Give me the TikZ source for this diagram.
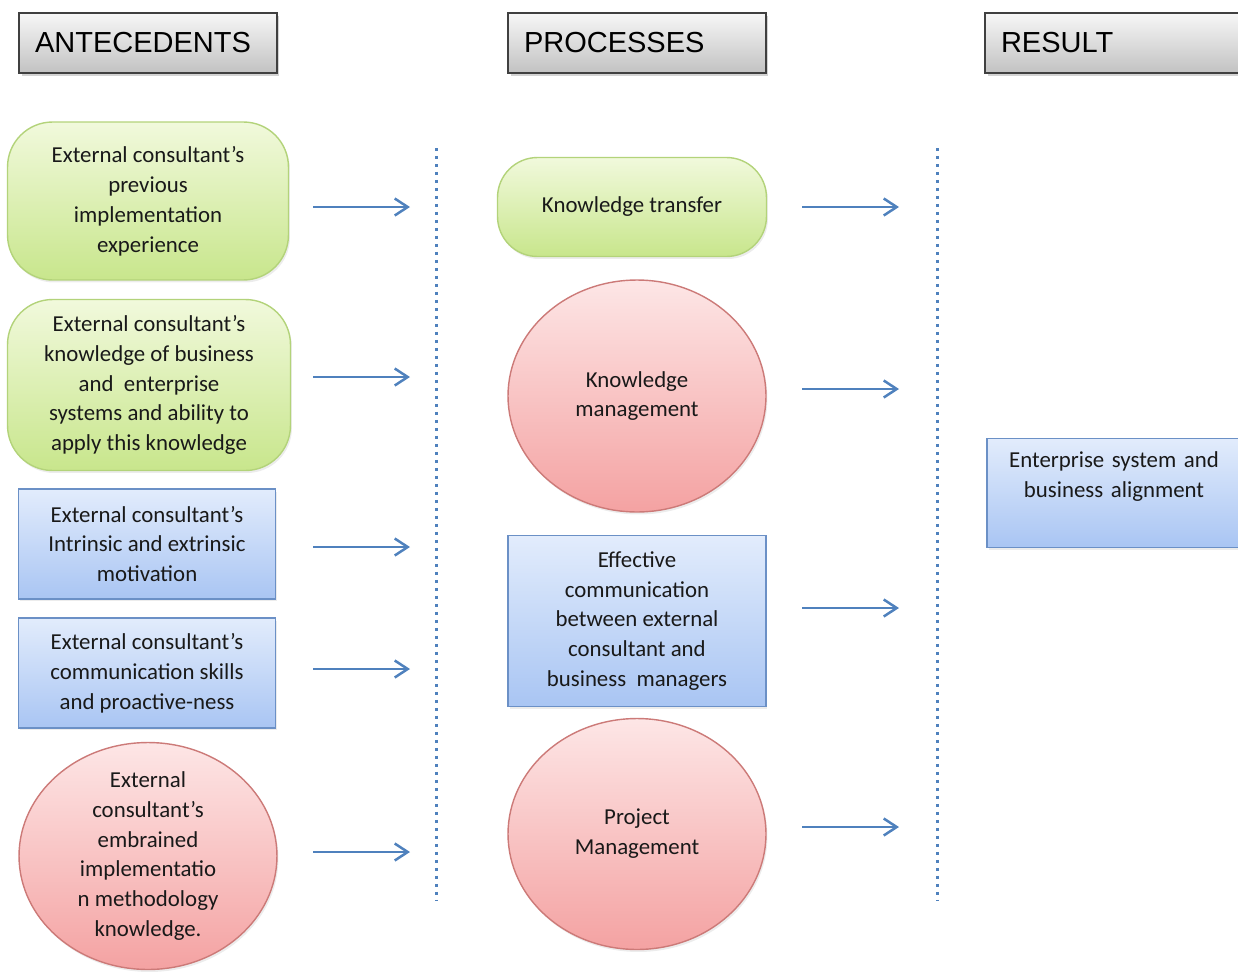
\documentclass[tikz,border=0pt]{standalone}
\usepackage{fontspec}
\setmainfont{Carlito}
\newfontfamily\headfont{Liberation Sans}
\usepackage{tikz}
\usepackage{xcolor}
\usetikzlibrary{calc,shapes.geometric,shadows,arrows.meta}

\definecolor{greentop}{HTML}{F1F9DC}
\definecolor{greenbot}{HTML}{C8E68C}
\definecolor{greenline}{HTML}{B3D37A}
\definecolor{redtop}{HTML}{FDE6E6}
\definecolor{redbot}{HTML}{F4A2A2}
\definecolor{redline}{HTML}{CC7A78}
\definecolor{bluetop}{HTML}{E2ECFC}
\definecolor{bluebot}{HTML}{A9C5F3}
\definecolor{blueline}{HTML}{6B90C6}
\definecolor{graytop}{HTML}{F7F7F7}
\definecolor{graybot}{HTML}{C2C2C2}
\definecolor{arrowblue}{HTML}{4F81BD}

\begin{document}
\begin{tikzpicture}[x=0.02cm, y=-0.02cm,
    headbox/.style={rectangle, draw=black!75, line width=1pt, top color=graytop, bottom color=graybot, minimum height=1.2cm, text width=4.52cm, inner xsep=0.32cm, align=left, font=\headfont\fontsize{16.5}{20}\selectfont, drop shadow={shadow xshift=0.05cm, shadow yshift=-0.06cm, opacity=0.35}},
    bodytext/.style={align=center, text=black!90, font=\fontsize{13}{17}\selectfont, line width=0.8pt, drop shadow={shadow xshift=0.03cm, shadow yshift=-0.05cm, opacity=0.15}},
    greennode/.style={bodytext, rectangle, rounded corners=0.9cm, draw=greenline, top color=greentop, bottom color=greenbot},
    bluenode/.style={bodytext, rectangle, draw=blueline, top color=bluetop, bottom color=bluebot},
    rednode/.style={bodytext, ellipse, inner sep=0pt, draw=redline, top color=redtop, bottom color=redbot}]
        \useasboundingbox (0,0) rectangle (1238,974);

        \node[headbox] (HA) at (148,43) {ANTECEDENTS};
        \node[headbox] (HP) at (637,43) {PROCESSES};
        \node[headbox] (HR) at (1114,43) {RESULT};

        \node[greennode, minimum width=5.62cm, minimum height=3.16cm] (N1) at (148,201) {External consultant’s\\ previous\\ implementation\\ experience};
        \node[greennode, minimum width=5.66cm, minimum height=3.42cm] (N2) at (149,385) {External consultant’s\\ knowledge of business\\ and\ \ enterprise\\ systems and ability to\\ apply this knowledge};
        \node[bluenode, minimum width=5.14cm, minimum height=2.2cm] (N3) at (147,544) {External consultant’s\\ Intrinsic and extrinsic\\ motivation};
        \node[bluenode, minimum width=5.14cm, minimum height=2.2cm] (N4) at (147,673) {External consultant’s\\ communication skills\\ and proactive-ness};
        \node[rednode, inner ysep=-0.12cm, minimum width=5.16cm, minimum height=4.54cm] (N5) at (148,856) {External\\ consultant’s\\ embrained\\ implementatio\\ n methodology\\ knowledge.};

        \node[greennode, rounded corners=0.8cm, minimum width=5.38cm, minimum height=1.98cm] (KT) at (632,207) {Knowledge transfer};
        \node[rednode, minimum width=5.16cm, minimum height=4.64cm] (KM) at (637,396) {Knowledge\\ management};
        \node[bluenode, minimum width=5.16cm, minimum height=3.42cm] (EC) at (637,621) {Effective\\ communication\\ between external\\ consultant and\\ business\ \ managers};
        \node[rednode, minimum width=5.16cm, minimum height=4.62cm] (PM) at (637,834) {Project\\ Management};

        \node[bluenode, text width=4.84cm, text height=11.5pt, text depth=40.5pt, inner ysep=5pt] (ES) at (1114,493) {Enterprise system and\\ business alignment};

        \coordinate (LA) at (436,148);
        \coordinate (LB) at (436,900);
        \coordinate (RA) at (937,148);
        \coordinate (RB) at (937,900);
        \coordinate (AS) at (313,0);
        \coordinate (AE) at (410,0);
        \coordinate (BS) at (802,0);
        \coordinate (BE) at (899,0);

        \tikzset{sepline/.style={arrowblue, line width=0.06cm, dash pattern=on 0.06cm off 0.1cm}}
        \tikzset{flowarrow/.style={-{Straight Barb[length=0.26cm,width=0.34cm]}, arrowblue, line width=0.05cm}}

        \draw[sepline] (LA) -- (LB);
        \draw[sepline] (RA) -- (RB);

        \draw ($(N1 -| AS)+(0,6)$) edge[flowarrow] ($(N1 -| AE)+(0,6)$);
        \draw ($(N2 -| AS)+(0,-8)$) edge[flowarrow] ($(N2 -| AE)+(0,-8)$);
        \draw ($(N3 -| AS)+(0,3)$) edge[flowarrow] ($(N3 -| AE)+(0,3)$);
        \draw ($(N4 -| AS)+(0,-4)$) edge[flowarrow] ($(N4 -| AE)+(0,-4)$);
        \draw ($(N5 -| AS)+(0,-4)$) edge[flowarrow] ($(N5 -| AE)+(0,-4)$);
        \draw (KT -| BS) edge[flowarrow] (KT -| BE);
        \draw ($(KM -| BS)+(0,-7)$) edge[flowarrow] ($(KM -| BE)+(0,-7)$);
        \draw ($(EC -| BS)+(0,-13)$) edge[flowarrow] ($(EC -| BE)+(0,-13)$);
        \draw ($(PM -| BS)+(0,-7)$) edge[flowarrow] ($(PM -| BE)+(0,-7)$);

    \end{tikzpicture}
\end{document}
